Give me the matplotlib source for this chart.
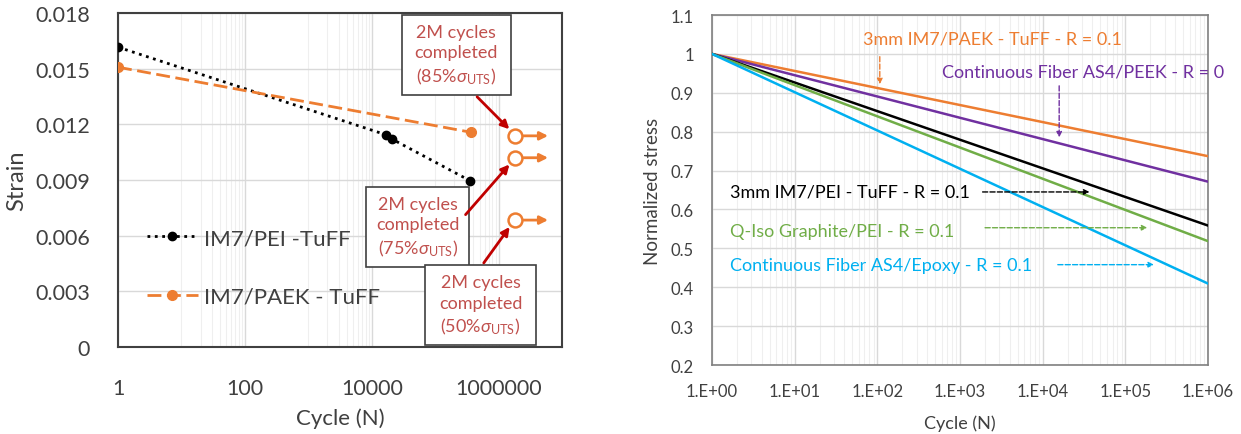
import numpy as np
import matplotlib.pyplot as plt
from matplotlib.patches import Rectangle

plt.rcParams['font.family'] = ['Lato', 'DejaVu Sans']
plt.rcParams['mathtext.fontset'] = 'custom'
plt.rcParams['mathtext.rm'] = 'Lato'
plt.rcParams['mathtext.it'] = 'Lato:italic'

# ---- left chart: strain vs cycles ----
pei_cycles = [1, 17000, 21000, 360000]
pei_strain = [0.01616, 0.01143, 0.0112, 0.00895]
paek_cycles = [1, 370000]
paek_strain = [0.01508, 0.01157]
runout_cycles = [1.8e6, 1.8e6, 1.8e6]
runout_strain = [0.01138, 0.0102, 0.00684]
runout_pct = ['85', '75', '50']
strain_ticks = [0, 0.003, 0.006, 0.009, 0.012, 0.015, 0.018]
strain_ticklabels = ['0', '0.003', '0.006', '0.009', '0.012', '0.015', '0.018']
cycle_ticks = [1, 100, 10000, 1000000]
cycle_ticklabels = ['1', '100', '10000', '1000000']

# ---- right chart: normalized stress curves ----
curve_names = ['3mm IM7/PAEK - TuFF - R = 0.1', 'Continuous Fiber AS4/PEEK - R = 0',
               '3mm IM7/PEI - TuFF - R = 0.1', 'Q-Iso Graphite/PEI - R = 0.1',
               'Continuous Fiber AS4/Epoxy - R = 0.1']
curve_colors = ['#ED7D31', '#7030A0', '#000000', '#70AD47', '#00B0F0']
curve_n = [1, 1e6]
curve_s = [[1.0, 0.737], [1.0, 0.6715], [1.0, 0.5586], [1.0, 0.5185], [1.0, 0.4094]]
stress_ticks = [0.2, 0.3, 0.4, 0.5, 0.6, 0.7, 0.8, 0.9, 1.0, 1.1]
stress_ticklabels = ['0.2', '0.3', '0.4', '0.5', '0.6', '0.7', '0.8', '0.9', '1', '1.1']
n_ticks = [1e0, 1e1, 1e2, 1e3, 1e4, 1e5, 1e6]
n_ticklabels = ['1.E+00', '1.E+01', '1.E+02', '1.E+03', '1.E+04', '1.E+05', '1.E+06']

fig = plt.figure(figsize=(12.41, 4.35), dpi=100)
ax1 = fig.add_axes([0.0951, 0.2, 0.3578, 0.7678])
ax2 = fig.add_axes([0.5737, 0.1586, 0.3997, 0.8046])

grid_c = '#D9D9D9'
minor_c = '#EFEFEF'
text_c = '#404040'

# left axes
ax1.set_xscale('log')
ax1.set_xlim(1, 1e7)
ax1.set_ylim(0, 0.018)
for e in [1, 3, 5]:
    for k in range(1, 10):
        ax1.axvline(k * 10 ** e, color=minor_c, lw=0.8, zorder=0)
for t in cycle_ticks:
    ax1.axvline(t, color=grid_c, lw=1.0, zorder=0)
for t in strain_ticks:
    ax1.axhline(t, color=grid_c, lw=1.0, zorder=0)
ax1.plot(pei_cycles, pei_strain, ls=':', color='#000000', lw=2, marker='o', ms=6,
         label='IM7/PEI -TuFF', zorder=3)
ax1.plot(paek_cycles, paek_strain, ls='--', color='#ED7D31', lw=2, marker='o', ms=7,
         label='IM7/PAEK - TuFF', dashes=(5, 2), zorder=3)
for x, y in zip(runout_cycles, runout_strain):
    ax1.annotate('', xy=(x * 3.7, y), xytext=(x * 1.25, y),
                 arrowprops=dict(arrowstyle='-|>', color='#ED7D31', lw=2, mutation_scale=12),
                 zorder=4)
ax1.plot(runout_cycles, runout_strain, ls='none', marker='o', ms=10, mfc='white',
         mec='#ED7D31', mew=1.8, zorder=5)

# annotation boxes: (x0 decade, x1 decade, y0, y1, arrow start)
boxes = [(4.47, 6.19, 0.01359, 0.01787, (5.63, 0.01359)),
         (3.91, 5.54, 0.00432, 0.00864, (5.45, 0.00702)),
         (4.84, 6.59, 0.00009, 0.00441, (5.74, 0.00441))]
for (x0, x1, y0, y1, (ax_, ay_)), pct, cx, cy in zip(boxes, runout_pct, runout_cycles, runout_strain):
    ax1.add_patch(Rectangle((10 ** x0, y0), 10 ** x1 - 10 ** x0, y1 - y0,
                            facecolor='white', edgecolor='#404040', lw=1.2, zorder=6))
    ax1.text(10 ** ((x0 + x1) / 2), (y0 + y1) / 2,
             '2M cycles\ncompleted\n(' + pct + r'%$\sigma_{\rm UTS}$)',
             ha='center', va='center', color='#C0504D', fontsize=13, linespacing=1.35, zorder=7)
    ax1.annotate('', xy=(cx * 0.88, cy + (0.00025 if ay_ > cy else -0.00025)),
                 xytext=(10 ** ax_, ay_),
                 arrowprops=dict(arrowstyle='-|>', color='#C00000', lw=2, mutation_scale=12),
                 zorder=8)

ax1.set_xticks(cycle_ticks)
ax1.set_xticklabels(cycle_ticklabels)
ax1.xaxis.set_minor_locator(plt.NullLocator())
ax1.set_yticks(strain_ticks)
ax1.set_yticklabels(strain_ticklabels)
ax1.tick_params(length=0, labelsize=15.5, colors=text_c)
ax1.tick_params(axis='x', pad=22)
ax1.tick_params(axis='y', pad=20)
ax1.set_xlabel('Cycle (N)', fontsize=16, color=text_c, labelpad=7)
ax1.set_ylabel('Strain', fontsize=17, color=text_c, labelpad=6)
for s in ax1.spines.values():
    s.set_color('#404040')
    s.set_linewidth(1.5)
ax1.legend(loc='lower left', bbox_to_anchor=(0.02, 0.06), frameon=False, fontsize=16,
           handlelength=2.3, labelspacing=1.75, handletextpad=0.25, labelcolor=text_c)

# right axes
ax2.set_xscale('log')
ax2.set_xlim(1, 1e6)
ax2.set_ylim(0.2, 1.1)
for e in range(6):
    for k in range(2, 10):
        ax2.axvline(k * 10 ** e, color=minor_c, lw=0.8, zorder=0)
for t in n_ticks:
    ax2.axvline(t, color=grid_c, lw=1.0, zorder=0)
for t in stress_ticks:
    ax2.axhline(t, color=grid_c, lw=1.0, zorder=0)
for name, c, s in zip(curve_names, curve_colors, curve_s):
    ax2.plot(curve_n, s, color=c, lw=1.8, zorder=3)

# curve labels with dashed pointers
ax2.text(10 ** 1.83, 1.0386, curve_names[0], color=curve_colors[0], fontsize=13, va='center')
ax2.annotate('', xy=(10 ** 2.03, 0.915), xytext=(10 ** 2.03, 1.0),
             arrowprops=dict(arrowstyle='-|>', color=curve_colors[0], lw=1, ls='--', mutation_scale=8))
ax2.text(10 ** 6.2, 0.956, curve_names[1], color=curve_colors[1], fontsize=13, va='center', ha='right')
ax2.annotate('', xy=(10 ** 4.2, 0.778), xytext=(10 ** 4.2, 0.925),
             arrowprops=dict(arrowstyle='-|>', color=curve_colors[1], lw=1, ls='--', mutation_scale=8))
ax2.text(10 ** 0.22, 0.645, curve_names[2], color=curve_colors[2], fontsize=13, va='center')
ax2.annotate('', xy=(10 ** 4.6, 0.645), xytext=(10 ** 3.24, 0.645),
             arrowprops=dict(arrowstyle='-|>', color=curve_colors[2], lw=1, ls='--', mutation_scale=8))
ax2.text(10 ** 0.22, 0.545, curve_names[3], color=curve_colors[3], fontsize=13, va='center')
ax2.annotate('', xy=(10 ** 5.3, 0.553), xytext=(10 ** 3.27, 0.553),
             arrowprops=dict(arrowstyle='-|>', color=curve_colors[3], lw=1, ls='--', mutation_scale=8))
ax2.text(10 ** 0.22, 0.458, curve_names[4], color=curve_colors[4], fontsize=13, va='center')
ax2.annotate('', xy=(10 ** 5.38, 0.458), xytext=(10 ** 4.15, 0.458),
             arrowprops=dict(arrowstyle='-|>', color=curve_colors[4], lw=1, ls='--', mutation_scale=8))

ax2.set_xticks(n_ticks)
ax2.set_xticklabels(n_ticklabels)
ax2.xaxis.set_minor_locator(plt.NullLocator())
ax2.set_yticks(stress_ticks)
ax2.set_yticklabels(stress_ticklabels)
ax2.tick_params(length=0, labelsize=12, colors=text_c)
ax2.tick_params(axis='x', pad=13)
ax2.tick_params(axis='y', pad=13)
ax2.set_xlabel('Cycle (N)', fontsize=13, color=text_c, labelpad=11)
ax2.set_ylabel('Normalized stress', fontsize=13.5, color=text_c, labelpad=7)
for s in ax2.spines.values():
    s.set_color('#808080')
    s.set_linewidth(1.2)

fig.savefig('out.png', dpi=100)
